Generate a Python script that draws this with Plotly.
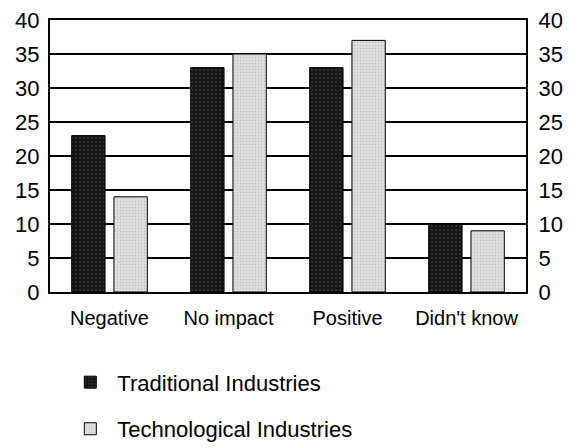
import plotly.graph_objects as go

categories = ["Negative", "No impact", "Positive", "Didn't know"]
traditional = [23, 33, 33, 10]
technological = [14, 35, 37, 9]
y_ticks = [0, 5, 10, 15, 20, 25, 30, 35, 40]

FONT = "Liberation Sans, Arial, Helvetica, sans-serif"

fig = go.Figure()

fig.add_trace(go.Bar(
    x=categories,
    y=traditional,
    name="Traditional Industries",
    legendgroup="trad",
    marker=dict(
        color="#151515",
        line=dict(color="#000000", width=1),
        pattern=dict(shape=".", fgcolor="#808080", bgcolor="#151515", size=4, solidity=0.15),
    ),
))

fig.add_trace(go.Bar(
    x=categories,
    y=technological,
    name="Technological Industries",
    legendgroup="tech",
    marker=dict(
        color="#dadada",
        line=dict(color="#000000", width=1),
        pattern=dict(shape=".", fgcolor="#a0a0a0", bgcolor="#dedede", size=3, solidity=0.2),
    ),
))

# empty trace so the right-hand value axis is drawn
fig.add_trace(go.Scatter(
    x=[], y=[], yaxis="y2", showlegend=False, hoverinfo="skip",
))

axis_common = dict(
    range=[0, 40],
    tickvals=y_ticks,
    showgrid=True,
    gridcolor="#000000",
    gridwidth=2,
    showline=True,
    linecolor="#000000",
    linewidth=2,
    ticks="",
    tickfont=dict(size=22, color="#000000", family=FONT),
    zeroline=False,
    fixedrange=True,
    automargin=False,
)

fig.update_layout(
    width=569,
    height=448,
    margin=dict(l=50, r=43, t=20, b=156, autoexpand=False),
    paper_bgcolor="white",
    plot_bgcolor="white",
    font=dict(family=FONT, color="#000000"),
    barmode="group",
    bargap=0.29,
    bargroupgap=0.21,
    xaxis=dict(
        showline=True,
        linecolor="#000000",
        linewidth=2,
        mirror=True,
        ticks="",
        tickfont=dict(size=20, color="#000000"),
        ticklabelstandoff=7,
        automargin=False,
    ),
    yaxis=dict(side="left", ticklabelstandoff=4, **axis_common),
    yaxis2=dict(side="right", overlaying="y", ticklabelstandoff=6, **axis_common),
    legend=dict(
        x=0.028,
        y=-0.255,
        xanchor="left",
        yanchor="top",
        orientation="v",
        font=dict(size=22, color="#000000"),
        tracegroupgap=15,
        itemwidth=44,
        bgcolor="rgba(0,0,0,0)",
    ),
    showlegend=True,
)

# page body margin off so the figure sits at the window's top-left corner
fig.write_html(
    "out.html",
    config={"displayModeBar": False},
    post_script="document.body.style.margin='0';",
)
